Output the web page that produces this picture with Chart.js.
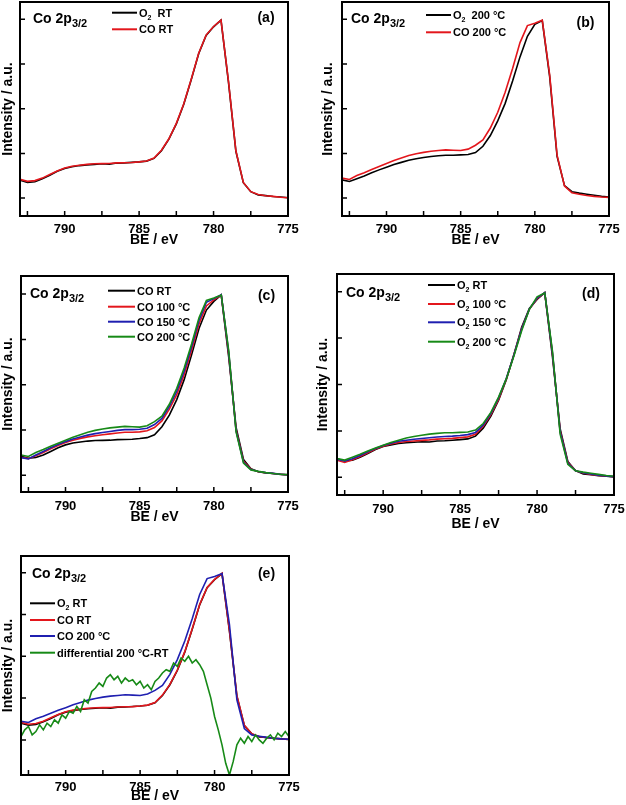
<!DOCTYPE html>
<html>
<head>
<meta charset="utf-8">
<title>Co 2p3/2 XPS spectra</title>
<script src="https://cdn.jsdelivr.net/npm/chart.js@4.4.1/dist/chart.umd.min.js"></script>
<style>
  html, body { margin: 0; padding: 0; background: #fff; }
  body { width: 626px; height: 805px; position: relative; overflow: hidden; }
  canvas { position: absolute; }
</style>
</head>
<body>
<canvas id="chartA"></canvas>
<canvas id="chartB"></canvas>
<canvas id="chartC"></canvas>
<canvas id="chartD"></canvas>
<canvas id="chartE"></canvas>
<script>
// Binding energy grid (eV), read every 0.5 eV off the spectra
var be = [793, 792.5, 792, 791.5, 791, 790.5, 790, 789.5, 789, 788.5, 788, 787.5, 787,
  786.5, 786, 785.5, 785, 784.5, 784, 783.5, 783, 782.5, 782, 781.5, 781, 780.5, 780,
  779.5, 779, 778.5, 778, 777.5, 777, 776.5, 776, 775.5, 775];

// Normalised intensities (peak = 1, baseline at 775 eV = 0)
var o2RT = [0.100, 0.088, 0.092, 0.108, 0.128, 0.150, 0.166, 0.175, 0.182, 0.186, 0.189, 0.192, 0.190,
  0.196, 0.197, 0.200, 0.203, 0.207, 0.222, 0.265, 0.330, 0.415, 0.525, 0.662, 0.808, 0.910, 0.958,
  0.995, 0.650, 0.262, 0.086, 0.036, 0.018, 0.014, 0.009, 0.006, 0.002];
var coRT = [0.105, 0.094, 0.098, 0.112, 0.132, 0.152, 0.168, 0.178, 0.184, 0.189, 0.192, 0.193, 0.194,
  0.197, 0.198, 0.199, 0.203, 0.208, 0.224, 0.268, 0.332, 0.418, 0.528, 0.665, 0.810, 0.912, 0.960,
  0.996, 0.655, 0.265, 0.088, 0.036, 0.020, 0.013, 0.010, 0.005, 0.002];
var o2_100 = [0.092, 0.080, 0.095, 0.112, 0.132, 0.152, 0.168, 0.180, 0.188, 0.193, 0.196, 0.199, 0.202,
  0.206, 0.208, 0.210, 0.214, 0.218, 0.232, 0.275, 0.338, 0.420, 0.528, 0.662, 0.800, 0.905, 0.962,
  0.994, 0.665, 0.250, 0.080, 0.036, 0.024, 0.016, 0.010, 0.007, 0.004];
var o2_150 = [0.098, 0.088, 0.100, 0.118, 0.138, 0.156, 0.172, 0.184, 0.194, 0.200, 0.205, 0.209, 0.213,
  0.217, 0.220, 0.222, 0.225, 0.230, 0.242, 0.282, 0.345, 0.428, 0.532, 0.660, 0.798, 0.906, 0.966,
  0.994, 0.670, 0.245, 0.076, 0.036, 0.025, 0.018, 0.012, 0.008, 0.004];
var o2_200 = [0.102, 0.093, 0.108, 0.124, 0.142, 0.158, 0.173, 0.188, 0.200, 0.212, 0.220, 0.227, 0.233,
  0.237, 0.240, 0.240, 0.242, 0.244, 0.255, 0.290, 0.350, 0.432, 0.530, 0.655, 0.790, 0.905, 0.972,
  0.993, 0.680, 0.233, 0.070, 0.036, 0.028, 0.022, 0.016, 0.010, 0.006];
var co100 = [0.100, 0.092, 0.108, 0.126, 0.146, 0.164, 0.181, 0.194, 0.204, 0.212, 0.218, 0.224, 0.229,
  0.234, 0.238, 0.238, 0.240, 0.246, 0.264, 0.300, 0.365, 0.445, 0.555, 0.690, 0.835, 0.935, 0.968,
  0.995, 0.670, 0.250, 0.078, 0.034, 0.020, 0.014, 0.010, 0.006, 0.003];
var co150 = [0.098, 0.090, 0.112, 0.132, 0.152, 0.170, 0.186, 0.200, 0.212, 0.222, 0.230, 0.236, 0.242,
  0.248, 0.252, 0.252, 0.254, 0.260, 0.280, 0.314, 0.380, 0.465, 0.575, 0.710, 0.855, 0.955, 0.975,
  0.996, 0.680, 0.245, 0.072, 0.032, 0.021, 0.015, 0.011, 0.006, 0.003];
var co200 = [0.112, 0.104, 0.126, 0.142, 0.160, 0.177, 0.193, 0.210, 0.224, 0.238, 0.248, 0.256, 0.262,
  0.266, 0.270, 0.268, 0.266, 0.274, 0.296, 0.326, 0.392, 0.480, 0.592, 0.725, 0.870, 0.965, 0.978,
  0.995, 0.690, 0.240, 0.068, 0.030, 0.022, 0.015, 0.010, 0.006, 0.004];

// Differential spectrum (CO 200 °C minus RT), noisy so read every 0.25 eV
var beFine = [793, 792.75, 792.5, 792.25, 792, 791.75, 791.5, 791.25, 791, 790.75, 790.5, 790.25,
  790, 789.75, 789.5, 789.25, 789, 788.75, 788.5, 788.25, 788, 787.75, 787.5, 787.25, 787, 786.75,
  786.5, 786.25, 786, 785.75, 785.5, 785.25, 785, 784.75, 784.5, 784.25, 784, 783.75, 783.5, 783.25,
  783, 782.75, 782.5, 782.25, 782, 781.75, 781.5, 781.25, 781, 780.75, 780.5, 780.25, 780, 779.75,
  779.5, 779.25, 779, 778.75, 778.5, 778.25, 778, 777.75, 777.5, 777.25, 777, 776.75, 776.5, 776.25,
  776, 775.75, 775.5, 775.25, 775];
var diff200 = [0.02, 0.06, 0.08, 0.03, 0.05, 0.09, 0.06, 0.10, 0.08, 0.12, 0.10, 0.15,
  0.13, 0.17, 0.16, 0.20, 0.17, 0.24, 0.22, 0.29, 0.31, 0.34, 0.32, 0.37, 0.39, 0.36,
  0.38, 0.34, 0.37, 0.35, 0.36, 0.33, 0.35, 0.31, 0.33, 0.30, 0.35, 0.37, 0.40, 0.42,
  0.41, 0.46, 0.44, 0.49, 0.47, 0.50, 0.46, 0.48, 0.45, 0.41, 0.33, 0.25, 0.14, 0.06,
  -0.03, -0.14, -0.21, -0.13, -0.03, 0.01, -0.02, 0.02, -0.01, 0.03, 0.00, -0.02, 0.01, 0.03,
  0.00, 0.04, 0.02, 0.05, 0.02];

// Legend texts ("_" marks a subscript)
var namesA = ['O_2  RT', 'CO RT'];
var namesB = ['O_2  200 °C', 'CO 200 °C'];
var namesC = ['CO RT', 'CO 100 °C', 'CO 150 °C', 'CO 200 °C'];
var namesD = ['O_2 RT', 'O_2 100 °C', 'O_2 150 °C', 'O_2 200 °C'];
var namesE = ['O_2 RT', 'CO RT', 'CO 200 °C', 'differential 200 °C-RT'];

var BLACK = '#000000', RED = '#e3161c', BLUE = '#1f1fb0', GREEN = '#178a17';
var FONT = '"Liberation Sans", Arial, Helvetica, sans-serif';

// Draw a string where "_x" or "_{xy}" is a subscript; cy is the text's visual centre
function drawRich(ctx, text, x, cy, size, subScale) {
  var base = cy + size * 0.36;
  var parts = text.split(/(_\{[^}]*\}|_.)/).filter(function (s) { return s.length; });
  var cx = x;
  parts.forEach(function (part) {
    var s = part, fs = size, by = base;
    if (part[0] === '_') {
      s = part[1] === '{' ? part.slice(2, -1) : part.slice(1);
      fs = Math.round(size * subScale);
      by = base + size * 0.28;
    }
    ctx.font = 'bold ' + fs + 'px ' + FONT;
    ctx.fillText(s, cx, by);
    cx += ctx.measureText(s).width;
  });
}

// Frame, inward ticks, panel label, letter and in-plot legend
var panelDeco = {
  id: 'panelDeco',
  afterDatasetsDraw: function (chart, args, o) {
    var ctx = chart.ctx, a = chart.chartArea;
    var xs = chart.scales.x, ys = chart.scales.y;
    ctx.save();
    ctx.strokeStyle = '#000';
    ctx.lineWidth = 1.5;
    ctx.beginPath();
    xs.ticks.forEach(function (t) {
      var px = xs.getPixelForValue(t.value);
      ctx.moveTo(px, a.bottom);
      ctx.lineTo(px, a.bottom - 5);
    });
    ys.ticks.forEach(function (t) {
      var py = ys.getPixelForValue(t.value);
      ctx.moveTo(a.left, py);
      ctx.lineTo(a.left + 5, py);
    });
    ctx.stroke();
    ctx.lineWidth = 2;
    ctx.strokeRect(a.left, a.top, a.right - a.left, a.bottom - a.top);

    ctx.fillStyle = '#000';
    ctx.textBaseline = 'alphabetic';
    ctx.textAlign = 'left';
    drawRich(ctx, 'Co 2p_{3/2}', a.left + o.co[0], a.top + o.co[1], 14, 0.82);

    ctx.textAlign = 'center';
    ctx.font = 'bold 14px ' + FONT;
    ctx.fillText(o.letter, a.left + o.tag[0], a.top + o.tag[1] + 5);

    ctx.textAlign = 'left';
    chart.data.datasets.forEach(function (ds, i) {
      var y = a.top + o.rows[i];
      ctx.strokeStyle = ds.borderColor;
      ctx.lineWidth = 2;
      ctx.beginPath();
      ctx.moveTo(a.left + o.leg[0], y);
      ctx.lineTo(a.left + o.leg[1], y);
      ctx.stroke();
      ctx.fillStyle = '#000';
      drawRich(ctx, ds.label, a.left + o.leg[2], y, 11, 0.6);
    });
    ctx.restore();
  }
};

var panels = [
  { canvas: 'chartA', left: 0, top: 0, w: 300, h: 249, yW: 20, xH: 33, tickPad: 6, ymin: -0.1, ymax: 1.097,
    series: [[be, o2RT, BLACK], [be, coRT, RED]], names: namesA,
    deco: { co: [13, 16], tag: [246, 15], letter: '(a)', leg: [92, 117, 119], rows: [10.7, 27.3] } },
  { canvas: 'chartB', left: 320, top: 0, w: 301, h: 249, yW: 22, xH: 33, tickPad: 6, ymin: -0.1, ymax: 1.097,
    series: [[be, o2_200, BLACK], [be, co200, RED]], names: namesB,
    deco: { co: [9, 16], tag: [243.5, 19.7], letter: '(b)', leg: [84, 109, 111], rows: [13, 30.3] } },
  { canvas: 'chartC', left: 0, top: 274, w: 300, h: 252, yW: 21, xH: 34, tickPad: 7, ymin: -0.092, ymax: 1.10,
    series: [[be, coRT, BLACK], [be, co100, RED], [be, co150, BLUE], [be, co200, GREEN]], names: namesC,
    deco: { co: [9, 17], tag: [245.5, 19], letter: '(c)', leg: [87, 114, 116], rows: [14.7, 30.7, 45.7, 60.7] } },
  { canvas: 'chartD', left: 315, top: 272, w: 311, h: 261, yW: 22, xH: 38, tickPad: 7, ymin: -0.095, ymax: 1.095,
    series: [[be, o2RT, BLACK], [be, o2_100, RED], [be, o2_150, BLUE], [be, o2_200, GREEN]], names: namesD,
    deco: { co: [9, 17.7], tag: [254, 19.3], letter: '(d)', leg: [91, 118, 120], rows: [11, 30, 48.3, 67.7] } },
  { canvas: 'chartE', left: 0, top: 554, w: 301, h: 251, yW: 21, xH: 30, tickPad: 5, ymin: -0.21, ymax: 1.10,
    series: [[be, o2RT, BLACK], [be, coRT, RED], [be, co200, BLUE], [beFine, diff200, GREEN]], names: namesE,
    deco: { co: [11, 17], tag: [245.5, 17], letter: '(e)', leg: [9, 34, 36], rows: [47.3, 64, 80, 96.7] } }
];

function makeChart(p) {
  var canvas = document.getElementById(p.canvas);
  canvas.width = p.w;
  canvas.height = p.h;
  canvas.style.left = p.left + 'px';
  canvas.style.top = p.top + 'px';

  var datasets = p.series.map(function (s, i) {
    return {
      label: p.names[i],
      data: s[0].map(function (x, j) { return { x: x, y: s[1][j] }; }),
      borderColor: s[2],
      borderWidth: 1.6,
      pointRadius: 0,
      tension: 0,
      // later series drawn on top
      order: p.series.length - i
    };
  });

  return new Chart(canvas.getContext('2d'), {
    type: 'line',
    data: { datasets: datasets },
    options: {
      responsive: false,
      animation: false,
      events: [],
      layout: { padding: { top: 2, right: 12, left: 0, bottom: 0 } },
      plugins: {
        legend: { display: false },
        tooltip: { enabled: false },
        panelDeco: p.deco
      },
      scales: {
        x: {
          type: 'linear', reverse: true, min: 775, max: 793,
          grid: { display: false, drawTicks: false }, border: { display: false },
          ticks: {
            stepSize: 2.5, includeBounds: false, autoSkip: false, maxRotation: 0,
            padding: p.tickPad, color: '#000',
            font: { family: FONT, size: 13, weight: 'bold' },
            callback: function (v) { return v % 5 === 0 ? String(v) : ''; }
          },
          title: { display: true, text: 'BE / eV', color: '#000', padding: 0,
                   font: { family: FONT, size: 14, weight: 'bold' } },
          afterFit: function (s) {
            s.height = p.xH;
            // plot edges are fixed by the layout padding, not by label overflow
            s.paddingLeft = 0;
            s.paddingRight = 0;
          }
        },
        y: {
          type: 'linear', min: p.ymin, max: p.ymax,
          grid: { display: false, drawTicks: false }, border: { display: false },
          ticks: { display: false, stepSize: 0.25, includeBounds: false },
          title: { display: true, text: 'Intensity / a.u.', color: '#000', padding: 0,
                   font: { family: FONT, size: 14, weight: 'bold' } },
          afterFit: function (s) { s.width = p.yW; }
        }
      }
    },
    plugins: [panelDeco]
  });
}

panels.forEach(makeChart);
</script>
</body>
</html>
